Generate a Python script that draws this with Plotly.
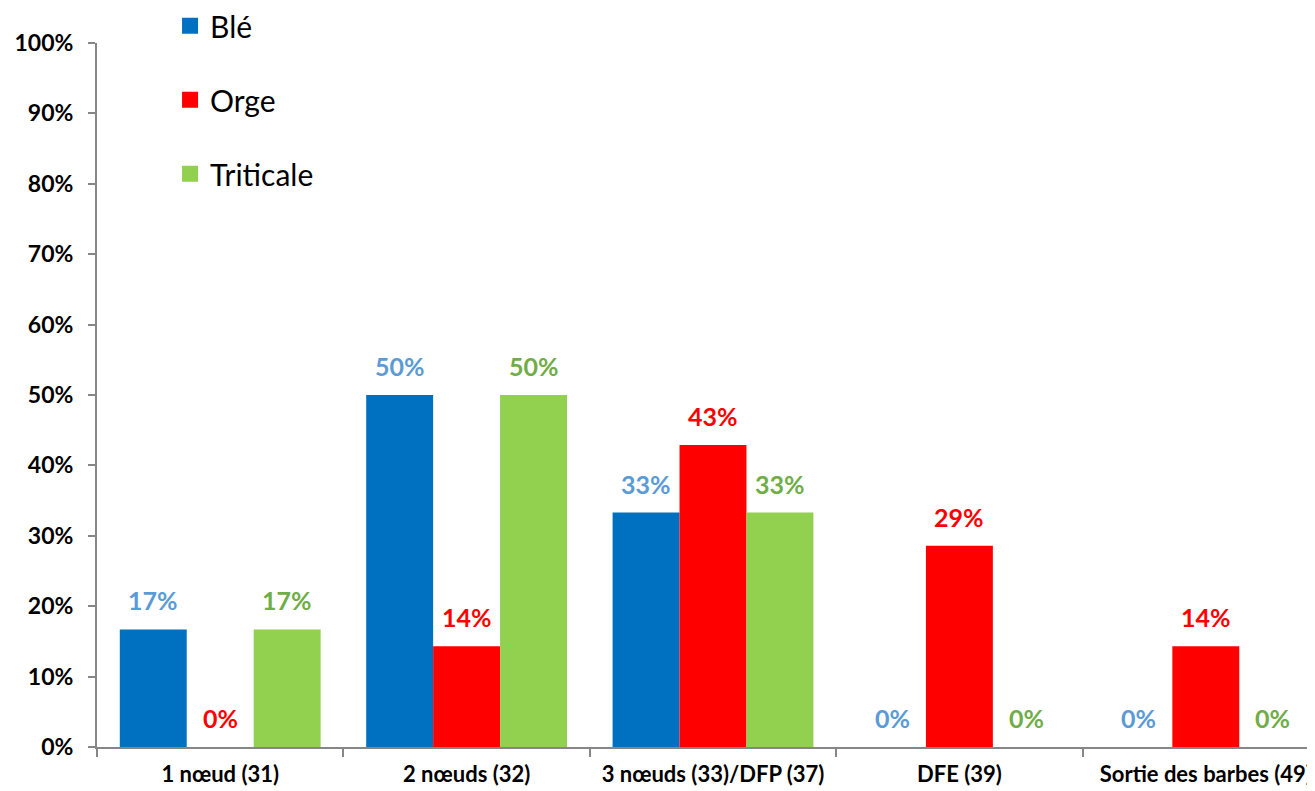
import plotly.graph_objects as go

categories = ["1 nœud (31)", "2 nœuds (32)", "3 nœuds (33)/DFP (37)", "DFE (39)", "Sortie des barbes (49)"]
series_names = ["Blé", "Orge", "Triticale"]
ble = [0.167, 0.50, 0.333, 0.0, 0.0]
orge = [0.0, 0.143, 0.429, 0.286, 0.143]
triticale = [0.167, 0.50, 0.333, 0.0, 0.0]
y_ticks = [0, 0.1, 0.2, 0.3, 0.4, 0.5, 0.6, 0.7, 0.8, 0.9, 1.0]

bar_colors = ["#0070C0", "#FF0000", "#92D050"]
label_colors = ["#5B9BD5", "#FF0000", "#70AD47"]
values = [ble, orge, triticale]

fig = go.Figure()
for i, (name, vals) in enumerate(zip(series_names, values)):
    fig.add_trace(go.Bar(
        x=categories, y=vals, name=name,
        marker=dict(color=bar_colors[i], line=dict(width=0)),
        showlegend=False,
    ))
# legend entries with larger square swatches
for i, name in enumerate(series_names):
    fig.add_trace(go.Scatter(
        x=[categories[0]], y=[None], name=name, mode="markers",
        marker=dict(symbol="square", size=16, color=bar_colors[i]),
        legendgroup=name, showlegend=True, hoverinfo="skip",
    ))

# data labels as annotations (offset above bars)
bar_px = 67
for i, vals in enumerate(values):
    for c, v in zip(categories, vals):
        fig.add_annotation(
            x=c, y=v, xref="x", yref="y",
            text=f"{round(v*100):d}%",
            showarrow=False, yanchor="bottom", xanchor="center",
            xshift=(i - 1) * bar_px, yshift=12,
            font=dict(family="Lato", size=25, color=label_colors[i], weight="bold"),
        )

fig.update_layout(
    width=1330, height=791,
    margin=dict(l=89, r=9, t=0, b=52, autoexpand=False),
    paper_bgcolor="white", plot_bgcolor="white",
    barmode="group", bargap=0.185, bargroupgap=0,
    font=dict(family="Lato", color="#000000"),
    showlegend=True,
    legend=dict(
        x=0.0593, y=1.011, xanchor="left", yanchor="top",
        orientation="v", tracegroupgap=32,
        font=dict(family="Lato", size=30, color="#000000"),
        bgcolor="rgba(0,0,0,0)", itemsizing="trace",
    ),
)
fig.update_yaxes(
    range=[0, 1], tickvals=y_ticks, tickformat=".0%",
    domain=[0, 1 - 35 / 739], automargin=False,
    showgrid=False, zeroline=False,
    showline=True, linecolor="#868686", linewidth=2,
    ticks="outside", ticklen=7, tickcolor="#868686", tickwidth=2,
    ticklabelstandoff=10,
    tickfont=dict(family="Lato", size=23, color="#000000", weight="bold"),
)
fig.update_xaxes(
    type="category", showgrid=False, automargin=False,
    showline=True, linecolor="#868686", linewidth=2,
    ticks="outside", tickson="boundaries", ticklen=8, tickcolor="#868686", tickwidth=2,
    ticklabelstandoff=7,
    tickfont=dict(family="Lato", size=22, color="#000000", weight="bold"),
)

fig.write_html("out.html")
